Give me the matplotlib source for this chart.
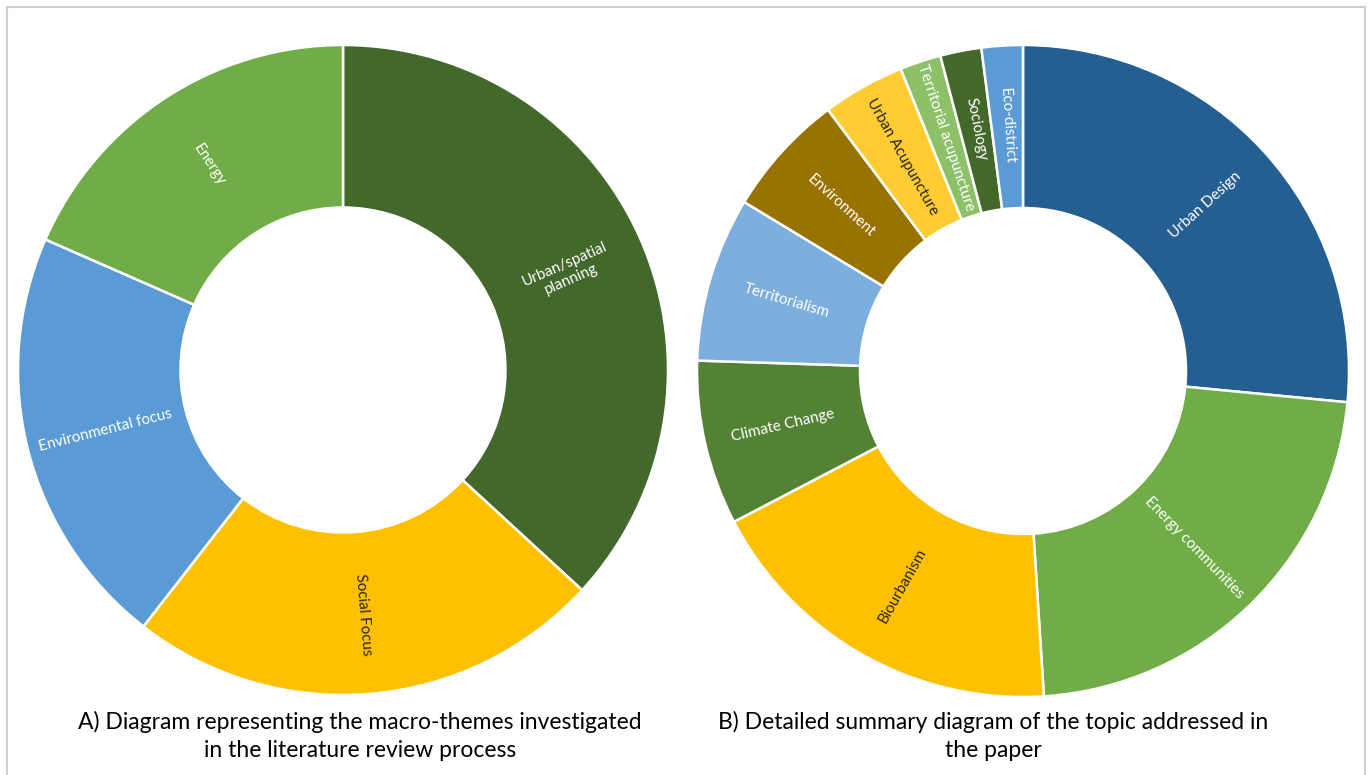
import matplotlib
matplotlib.use("Agg")
import numpy as np
import matplotlib.pyplot as plt
from matplotlib.patches import Rectangle

plt.rcParams['font.family'] = ['Lato', 'DejaVu Sans']

# Pannello A: macro-temi
temi_a = ["Urban/spatial\nplanning", "Social Focus", "Environmental focus", "Energy"]
valori_a = [14, 9, 8, 7]
colori_a = ["#43682B", "#FFC000", "#5B9BD5", "#70AD47"]
testo_a = ["white", "#262626", "white", "white"]

# Pannello B: argomenti di dettaglio
temi_b = ["Urban Design", "Energy communities", "Biourbanism", "Climate Change",
          "Territorialism", "Environment", "Urban Acupuncture",
          "Territorial acupuncture", "Sociology", "Eco-district"]
valori_b = [13, 11, 9, 4, 4, 3, 2, 1, 1, 1]
colori_b = ["#255E91", "#70AD47", "#FFC000", "#548235", "#7CAFDD",
            "#997300", "#FFCD33", "#8CC168", "#43682B", "#5B9BD5"]
testo_b = ["white", "white", "#262626", "white", "white",
           "white", "#262626", "white", "white", "white"]

didascalia_a = "A) Diagram representing the macro-themes investigated\nin the literature review process"
didascalia_b = "B) Detailed summary diagram of the topic addressed in\nthe paper"

W, H = 1371, 775
fig = plt.figure(figsize=(W / 100, H / 100), dpi=100)
fig.patch.set_facecolor("white")


def ciambella(rect, valori, colori, etichette, col_testo):
    ax = fig.add_axes(rect)
    wedges, _ = ax.pie(valori, colors=colori, startangle=90, counterclock=False,
                       radius=1.0,
                       wedgeprops=dict(width=0.5, edgecolor="white", linewidth=1.8))
    for w, lab, c in zip(wedges, etichette, col_testo):
        mid = (w.theta1 + w.theta2) / 2.0
        r = 0.755
        x = r * np.cos(np.radians(mid))
        y = r * np.sin(np.radians(mid))
        rot = (mid + 180) % 360 - 180
        if rot > 90:
            rot -= 180
        elif rot < -90:
            rot += 180
        ax.text(x, y, lab, rotation=rot, rotation_mode="anchor",
                ha="center", va="center", fontsize=10.9, color=c,
                multialignment="center", linespacing=1.2)
    ax.set_xlim(-1, 1)
    ax.set_ylim(-1, 1)
    ax.set_aspect("auto")
    ax.axis("off")
    return ax


ciambella([18 / W, (H - 695) / H, 650 / W, 650 / H], valori_a, colori_a, temi_a, testo_a)
ciambella([697 / W, (H - 697) / H, 652 / W, 652 / H], valori_b, colori_b, temi_b, testo_b)

fig.text(360 / W, 1 - 736 / H, didascalia_a, ha="center", va="center",
         fontsize=16.5, color="black", linespacing=1.45)
fig.text(993 / W, 1 - 736 / H, didascalia_b, ha="center", va="center",
         fontsize=16.5, color="black", linespacing=1.45)

# cornice grigia
fig.patches.append(Rectangle((7 / W, -0.05), (1365 - 7) / W, 1.05 - 7 / H,
                             transform=fig.transFigure, fill=False,
                             edgecolor="#D0D0D0", linewidth=1.5))

fig.savefig("out.png", dpi=100)
